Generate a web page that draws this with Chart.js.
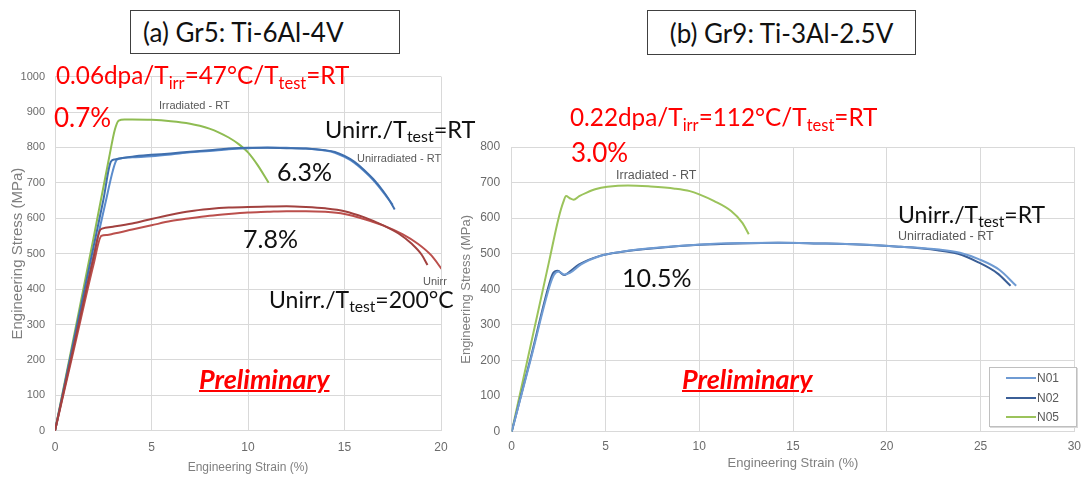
<!DOCTYPE html>
<html>
<head>
<meta charset="utf-8">
<script src="https://cdn.jsdelivr.net/npm/chart.js@4.4.1/dist/chart.umd.min.js"></script>
<style>
  html, body { margin:0; padding:0; background:#fff; }
  #wrap { position:relative; width:1089px; height:478px; overflow:hidden; background:#fff; }
  canvas { position:absolute; }
  .t { position:absolute; white-space:nowrap; line-height:1; font-family: Lato, "Open Sans", sans-serif; }
  .t sub { font-size:0.68em; vertical-align:-0.28em; line-height:0; }
  .red { color:#ff0000; }
  .blk { color:#111; }
  .sm { font-family:"Liberation Sans", Arial, sans-serif; color:#595959; }
  .pre { font-weight:bold; font-style:italic; text-decoration:underline; color:#ff0000; text-decoration-thickness:2px; }
  .box { position:absolute; border:1.5px solid #404040; box-sizing:border-box; display:flex; align-items:center; font-family: Lato, "Open Sans", sans-serif; font-size:26px; color:#111; background:#fff; }
  #legend { position:absolute; left:989px; top:367px; width:88px; height:60px; box-sizing:border-box; border:1.5px solid #bfbfbf; box-shadow:1px 1px 0 #d9d9d9; background:#fff; }
  .lg { position:absolute; left:16px; height:14px; font:12px "Liberation Sans", Arial, sans-serif; color:#595959; display:flex; align-items:center; }
  .lg i { display:inline-block; width:30px; height:2px; margin-right:1px; }
</style>
</head>
<body>
<div id="wrap">
  <canvas id="c1" width="470" height="418" style="left:0;top:60px;"></canvas>
  <canvas id="c2" width="634" height="378" style="left:455px;top:100px;"></canvas>
  <div class="box" style="left:130px;top:10px;width:270px;height:44px;padding-left:12px;">(a) Gr5: Ti-6Al-4V</div>
  <div class="box" style="left:647px;top:10px;width:269px;height:45px;justify-content:center;">(b) Gr9: Ti-3Al-2.5V</div>
  <div id="legend"></div>
</div>
<script>
// ---------- Gr5: Ti-6Al-4V (left) ----------
const gr5XTicks = [0, 5, 10, 15, 20];
const gr5YTicks = [0, 100, 200, 300, 400, 500, 600, 700, 800, 900, 1000];

const gr5IrrRT_x = [0, 1.0, 2.0, 2.8, 3.1, 3.3, 3.6, 4.0, 5.0, 6.0, 7.0, 7.5, 8.0, 8.5, 9.0, 9.5, 10.0, 10.5, 11.07];
const gr5IrrRT_y = [0, 272, 545, 770, 850, 876, 879, 879, 878, 874, 867, 861, 853, 842, 828, 810, 786, 750, 700];

const gr5UnirrRT1_x = [0, 1.0, 2.0, 2.5, 2.9, 3.1, 3.5, 4.0, 5.0, 6.0, 7.0, 8.0, 9.0, 10.0, 11.0, 12.0, 13.0, 14.0, 14.5, 15.0, 15.5, 16.0, 16.5, 17.0, 17.3, 17.6];
const gr5UnirrRT1_y = [0, 262, 520, 650, 760, 766, 770, 774, 779, 783, 788, 792, 797, 799, 799, 798, 797, 792, 787, 776, 760, 737, 710, 677, 653, 625];
const gr5UnirrRT2_x = [0, 1.0, 2.0, 2.6, 3.0, 3.2, 3.5, 4.0, 5.0, 6.0, 7.0, 8.0, 9.0, 10.0, 11.0, 12.0, 13.0, 14.0, 14.5, 15.0, 15.5, 16.0, 16.5, 17.0, 17.5];
const gr5UnirrRT2_y = [0, 250, 495, 640, 735, 765, 770, 772, 775, 780, 786, 790, 795, 798, 800, 799, 797, 791, 785, 773, 757, 734, 707, 674, 638];

const gr5Unirr200a_x = [0, 1.0, 2.0, 2.35, 2.6, 3.0, 4.0, 5.0, 6.0, 7.0, 8.0, 9.0, 10.0, 11.0, 12.0, 13.0, 14.0, 15.0, 16.0, 17.0, 17.8, 18.5, 19.0, 19.3];
const gr5Unirr200a_y = [0, 245, 490, 568, 573, 576, 585, 598, 610, 620, 626, 630, 632, 633, 634, 632, 628, 620, 603, 580, 557, 527, 497, 468];
const gr5Unirr200b_x = [0, 1.0, 2.0, 2.4, 2.7, 3.0, 4.0, 5.0, 6.0, 7.0, 8.0, 9.0, 10.0, 11.0, 12.0, 13.0, 14.0, 15.0, 16.0, 17.0, 18.0, 18.8, 19.5, 20.03];
const gr5Unirr200b_y = [0, 235, 470, 550, 553, 556, 568, 580, 592, 600, 607, 612, 616, 618, 620, 620, 618, 612, 598, 580, 555, 528, 495, 457];

// ---------- Gr9: Ti-3Al-2.5V (right) ----------
const gr9XTicks = [0, 5, 10, 15, 20, 25, 30];
const gr9YTicks = [0, 100, 200, 300, 400, 500, 600, 700, 800];
const gr9Labels = ["N01", "N02", "N05"];

const gr9N01_x = [0, 1.0, 2.0, 2.25, 2.5, 2.8, 3.1, 3.7, 4.8, 5.9, 8.0, 10.1, 12.2, 14.3, 16.4, 18.6, 20.7, 22.8, 23.9, 24.9, 26.0, 26.9];
const gr9N01_y = [0, 200, 405, 440, 450, 442, 446, 470, 495, 506, 518, 526, 530, 531, 529, 526, 520, 512, 503, 485, 455, 410];
const gr9N02_x = [0, 1.0, 2.0, 2.2, 2.45, 2.8, 3.0, 3.6, 4.7, 5.8, 7.9, 10.0, 12.1, 14.2, 16.3, 18.5, 20.6, 22.7, 23.8, 24.8, 25.9, 26.6];
const gr9N02_y = [0, 205, 415, 445, 452, 440, 446, 470, 494, 505, 517, 525, 529, 531, 529, 526, 520, 510, 500, 478, 445, 410];
const gr9N05_x = [0, 1.0, 2.0, 2.5, 2.75, 2.9, 3.1, 3.3, 3.6, 4.0, 4.5, 5.1, 6.2, 7.4, 8.7, 9.5, 10.0, 10.8, 11.7, 12.3, 12.64];
const gr9N05_y = [0, 240, 480, 600, 645, 662, 656, 652, 662, 672, 682, 688, 692, 689, 683, 676, 667, 648, 620, 587, 555];

function pts(xs, ys) { return xs.map((x, i) => ({ x: x, y: ys[i] })); }
function ds(label, xs, ys, color) {
  return { label: label, data: pts(xs, ys), borderColor: color, backgroundColor: color,
           borderWidth: 2, pointRadius: 0, showLine: true, cubicInterpolationMode: 'monotone', fill: false };
}

const gridCol = '#d9d9d9';
const tickCol = '#6b6b6b';

function axisOpts(min, max, ticksArr, size, pad, fitSize, horiz, titleText, titleFont, titlePad) {
  return {
    type: 'linear', min: min, max: max,
    afterBuildTicks: (s) => { s.ticks = ticksArr.map(v => ({ value: v })); },
    afterFit: (s) => { if (horiz) s.height = fitSize; else s.width = fitSize; },
    grid: { color: gridCol, lineWidth: 1, drawTicks: false },
    border: { color: gridCol, width: 1 },
    ticks: { color: tickCol, padding: pad, callback: (v) => String(v),
             font: { family: '"Liberation Sans", Arial, sans-serif', size: size } },
    title: { display: true, text: titleText, color: '#7f7f7f', font: titleFont, padding: titlePad }
  };
}

new Chart(document.getElementById('c1'), {
  type: 'scatter',
  data: { datasets: [
    ds('Unirradiated - 200C a', gr5Unirr200a_x, gr5Unirr200a_y, '#a2413f'),
    ds('Unirradiated - 200C b', gr5Unirr200b_x, gr5Unirr200b_y, '#bb4f4c'),
    ds('Unirradiated - RT a', gr5UnirrRT1_x, gr5UnirrRT1_y, '#3f6fae'),
    ds('Unirradiated - RT b', gr5UnirrRT2_x, gr5UnirrRT2_y, '#5b8ccc'),
    ds('Irradiated - RT', gr5IrrRT_x, gr5IrrRT_y, '#8fbc52')
  ]},
  options: {
    responsive: false, animation: false, devicePixelRatio: 1,
    layout: { padding: { top: 15, right: 29, left: 0, bottom: 0 } },
    plugins: { legend: { display: false }, tooltip: { enabled: false } },
    scales: {
      x: axisOpts(0, 20, gr5XTicks, 12, 10, 47.3, true, 'Engineering Strain (%)',
                  { family: '"Liberation Sans", Arial, sans-serif', size: 12 }, { top: 0, bottom: 3 }),
      y: axisOpts(0, 1000, gr5YTicks, 11, 10, 55, false, 'Engineering Stress (MPa)',
                  { family: '"Liberation Sans", Arial, sans-serif', size: 15 }, { top: 9, bottom: 0 })
    }
  }
});

const gr9Colors = ['#6f9bd3', '#3b5f97', '#9bc35b'];
const chart2 = new Chart(document.getElementById('c2'), {
  type: 'scatter',
  data: { datasets: [
    ds(gr9Labels[0], gr9N01_x, gr9N01_y, gr9Colors[0]),
    ds(gr9Labels[1], gr9N02_x, gr9N02_y, gr9Colors[1]),
    ds(gr9Labels[2], gr9N05_x, gr9N05_y, gr9Colors[2])
  ]},
  options: {
    responsive: false, animation: false, devicePixelRatio: 1,
    layout: { padding: { top: 47, right: 11, left: 0, bottom: 0 } },
    plugins: { legend: { display: false }, tooltip: { enabled: false } },
    scales: {
      x: axisOpts(0, 30, gr9XTicks, 12, 8, 46.3, true, 'Engineering Strain (%)',
                  { family: '"Liberation Sans", Arial, sans-serif', size: 13 }, { top: 0, bottom: 7 }),
      y: axisOpts(0, 800, gr9YTicks, 12, 11.5, 56.7, false, 'Engineering Stress (MPa)',
                  { family: '"Liberation Sans", Arial, sans-serif', size: 13 }, { top: 4, bottom: 0 })
    }
  }
});

// legend built from datasets
const lg = document.getElementById('legend');
chart2.data.datasets.forEach((d, i) => {
  const e = document.createElement('div');
  e.className = 'lg';
  e.style.top = (3 + i * 19.5) + 'px';
  e.innerHTML = '<i style="background:' + d.borderColor + '"></i>' + d.label;
  lg.appendChild(e);
});

// annotations (text)
const notes = [
  // [html, left, baseline, size, cls]
  ['0.06dpa/T<sub>irr</sub>=47°C/T<sub>test</sub>=RT', 56, 85, 24.3, 'red'],
  ['0.7%', 54, 127, 26, 'red'],
  ['Irradiated - RT', 159, 109, 11, 'sm'],
  ['Unirr./T<sub>test</sub>=RT', 325, 139, 23.5, 'blk'],
  ['Unirradiated - RT', 357, 162, 11, 'sm'],
  ['6.3%', 277, 181, 25, 'blk'],
  ['7.8%', 243, 248, 25, 'blk'],
  ['Unirr', 423, 285, 11, 'sm'],
  ['Unirr./T<sub>test</sub>=200°C', 269, 308, 23, 'blk'],
  ['Preliminary', 199, 389, 27, 'pre'],
  ['0.22dpa/T<sub>irr</sub>=112°C/T<sub>test</sub>=RT', 570, 127, 24.3, 'red'],
  ['3.0%', 571, 162, 26, 'red'],
  ['Irradiated - RT', 616, 180, 12.5, 'sm'],
  ['Unirr./T<sub>test</sub>=RT', 898, 223, 23, 'blk'],
  ['Unirradiated - RT', 898, 241, 12.5, 'sm'],
  ['10.5%', 622, 287, 25, 'blk'],
  ['Preliminary', 682, 389, 27, 'pre']
];
const wrap = document.getElementById('wrap');
notes.forEach(n => {
  const d = document.createElement('div');
  d.className = 't ' + n[4];
  d.style.fontSize = n[3] + 'px';
  d.style.left = n[1] + 'px';
  const asc = n[4] === 'sm' ? 0.86 : 0.887;
  d.style.top = (n[2] - asc * n[3]) + 'px';
  d.innerHTML = n[0];
  wrap.appendChild(d);
});
</script>
</body>
</html>
